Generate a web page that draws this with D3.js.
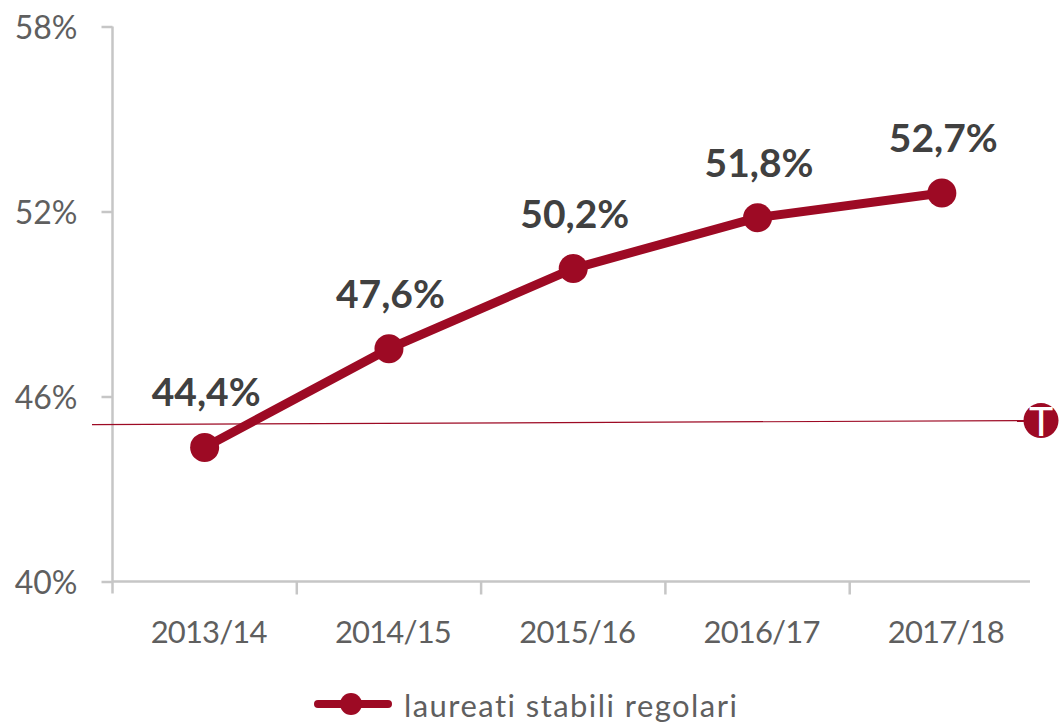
<!DOCTYPE html>
<html><head><meta charset="utf-8">
<script src="https://cdn.jsdelivr.net/npm/d3@7"></script>
<style>html,body{margin:0;background:#fff}svg{display:block}text{font-family:Lato,sans-serif}</style>
</head><body><div id="c"></div>
<script>
const categories=["2013/14","2014/15","2015/16","2016/17","2017/18"];
const values=[44.35,47.55,50.15,51.8,52.6];
const valueLabels=["44,4%","47,6%","50,2%","51,8%","52,7%"];
const yTicks=[40,46,52,58];
const targetValues=[45.09,45.22];
const legendLabel="laureati stabili regolari";
const targetLabel="T";
const red="#9d0a24",grey="#c6c6c6",textGrey="#5f5f5f",dark="#404040";
const W=1059,H=725;
const svg=d3.select("#c").append("svg").attr("width",W).attr("height",H);
const x=d3.scaleBand().domain(categories).range([112.5,1034]).padding(0);
const y=d3.scaleLinear().domain([40,58]).range([581.5,26.5]);
const cx=c=>x(c)+x.bandwidth()/2;
// axes
const yAxis=d3.axisLeft(y).tickValues(yTicks).tickFormat(d=>d+"%").tickSize(11).tickPadding(24);
const yg=svg.append("g").attr("transform","translate(112.5,0)").call(yAxis);
yg.select(".domain").remove();
yg.append("line").attr("y1",y(58)).attr("y2",y(40)+12).attr("stroke",grey).attr("stroke-width",2.5);
yg.selectAll(".tick line").attr("stroke",grey).attr("stroke-width",2.5);
yg.selectAll(".tick text").attr("fill",textGrey).attr("font-size",32).attr("dy","0.36em");
const xg=svg.append("g").attr("transform",`translate(0,${y(40)})`);
xg.append("line").attr("x1",x.range()[0]).attr("x2",x.range()[1]-4).attr("stroke",grey).attr("stroke-width",2.5);
xg.selectAll("line.t").data(categories.slice(1)).join("line").attr("class","t")
  .attr("x1",d=>x(d)).attr("x2",d=>x(d)).attr("y1",0).attr("y2",13).attr("stroke",grey).attr("stroke-width",2.5);
xg.selectAll("text").data(categories).join("text").attr("x",d=>cx(d)+4).attr("y",61)
  .attr("text-anchor","middle").attr("fill",textGrey).attr("font-size",31).attr("letter-spacing",-0.85).text(d=>d);
// target line
const tx=[92,1041];
const tScale=d3.scaleLinear().domain([0,1]).range(tx);
svg.append("path").datum(targetValues).attr("fill","none").attr("stroke",red).attr("stroke-width",1.2)
  .attr("d",d3.line().x((d,i)=>tScale(i)).y(d=>y(d)));
svg.append("circle").attr("cx",tScale(1)).attr("cy",y(targetValues[1])).attr("r",17.5).attr("fill",red);
svg.append("text").attr("x",tScale(1)).attr("y",y(targetValues[1])+15).attr("text-anchor","middle")
  .attr("fill","#fff").attr("font-size",41).text(targetLabel);
// series
svg.append("path").datum(values).attr("fill","none").attr("stroke",red).attr("stroke-width",9)
  .attr("stroke-linejoin","round")
  .attr("d",d3.line().x((d,i)=>cx(categories[i])).y(d=>y(d)));
svg.selectAll("circle.p").data(values).join("circle").attr("class","p")
  .attr("cx",(d,i)=>cx(categories[i])).attr("cy",d=>y(d)).attr("r",14.5).attr("fill",red);
svg.selectAll("text.v").data(values).join("text").attr("class","v")
  .attr("x",(d,i)=>cx(categories[i])+1.5).attr("y",d=>y(d)-41)
  .attr("text-anchor","middle").attr("fill",dark).attr("font-size",39).attr("font-weight",700)
  .text((d,i)=>valueLabels[i]);
// legend
const lg=svg.append("g").attr("transform","translate(0,704)");
lg.append("line").attr("x1",318).attr("x2",388).attr("stroke",red).attr("stroke-width",8).attr("stroke-linecap","round");
lg.append("circle").attr("cx",351).attr("r",11).attr("fill",red);
lg.append("text").attr("x",404).attr("y",13).attr("fill",textGrey).attr("font-size",31).attr("letter-spacing",1.45).text(legendLabel);
</script></body></html>
